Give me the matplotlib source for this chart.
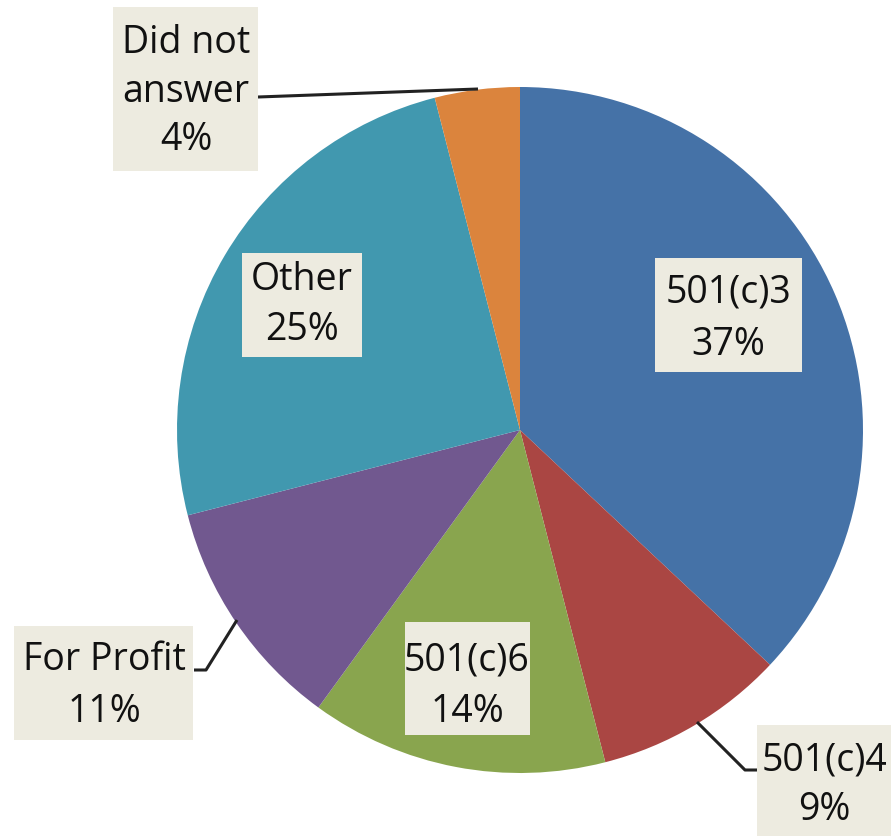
import matplotlib
matplotlib.use('Agg')
import matplotlib.pyplot as plt
from matplotlib.patches import Rectangle

# data
categories = ['501(c)3', '501(c)4', '501(c)6', 'For Profit', 'Other', 'Did not answer']
shares = [37, 9, 14, 11, 25, 4]
colors = ['#4572A7', '#AA4643', '#89A54E', '#71588F', '#4198AF', '#DB843D']

W, H = 891, 836
BOX = '#EDEBE0'

# label layout in pixel coords (top-down): box (x0, y0, x1, y1), text lines, line centres
labels = [
    ((655, 258, 802, 372), ['501(c)3', '37%'], 728, [293, 345]),
    ((757, 725, 900, 840), ['501(c)4', '9%'], 824, [760, 810]),
    ((405, 622, 530, 735), ['501(c)6', '14%'], 467, [660, 712]),
    ((14, 626, 193, 740), ['For Profit', '11%'], 104, [660, 712]),
    ((242, 253, 362, 357), ['Other', '25%'], 302, [280, 330]),
    ((113, 7, 258, 171), ['Did not', 'answer', '4%'], 186, [43, 92, 140]),
]
leaders = [
    [(697, 722), (745, 770), (757, 770)],
    [(237, 620), (206, 670), (194, 670)],
    [(478, 89), (258, 97)],
]

fig = plt.figure(figsize=(W / 100, H / 100), dpi=100)
ax = fig.add_axes([0, 0, 1, 1])

ax.pie(shares, colors=colors, startangle=90, counterclock=False,
       center=(520, H - 430), radius=343, frame=True,
       wedgeprops=dict(linewidth=0))

for pts in leaders:
    ax.plot([p[0] for p in pts], [H - p[1] for p in pts], color='#222222', lw=2.2,
            solid_capstyle='butt')

for (x0, y0, x1, y1), lines, cx, ys in labels:
    ax.add_patch(Rectangle((x0, H - y1), x1 - x0, y1 - y0, facecolor=BOX,
                           edgecolor='none', zorder=3))
    for txt, y in zip(lines, ys):
        ax.text(cx, H - y, txt, ha='center', va='center', fontsize=27,
                family='Open Sans', color='#111111', zorder=4)

ax.set_xlim(0, W)
ax.set_ylim(0, H)
ax.set_axis_off()

fig.savefig('out.png', dpi=100)
